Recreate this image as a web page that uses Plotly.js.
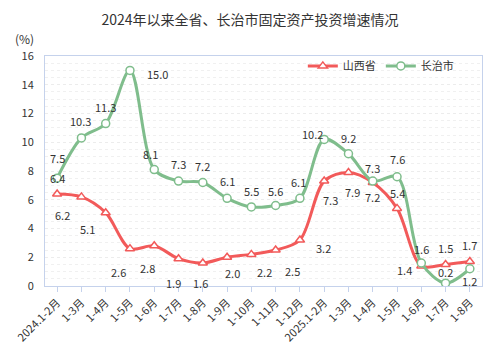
<!DOCTYPE html>
<html>
<head>
<meta charset="utf-8">
<script src="https://cdn.plot.ly/plotly-3.0.1.min.js"></script>
<style>html,body{margin:0;padding:0;background:#fff;}#chart{width:500px;height:349px;}</style>
</head>
<body>
<div id="chart"></div>
<script>
const categories = ["2024.1-2月","1-3月","1-4月","1-5月","1-6月","1-7月","1-8月","1-9月","1-10月","1-11月","1-12月","2025.1-2月","1-3月","1-4月","1-5月","1-6月","1-7月","1-8月"];
const shanxi = [6.4, 6.2, 5.1, 2.6, 2.8, 1.9, 1.6, 2.0, 2.2, 2.5, 3.2, 7.3, 7.9, 7.2, 5.4, 1.4, 1.5, 1.7];
const changzhi = [7.5, 10.3, 11.3, 15.0, 8.1, 7.3, 7.2, 6.1, 5.5, 5.6, 6.1, 10.2, 9.2, 7.3, 7.6, 1.6, 0.2, 1.2];
const yTicks = [0, 2, 4, 6, 8, 10, 12, 14, 16];

// label offsets in pixels [dx, dy] (style only)
const shanxiLabelShift = [[0,16],[-19,-18],[-18,-16],[-11,-23],[-7,-22],[-5,-24],[-2,-20],[5,-16],[13,-18],[17,-21],[24,-8],[6,-19],[4,-20],[0,-14],[0,15],[-17,-4],[0,16],[0,17]];
const changzhiLabelShift = [[0,20],[-1,17],[0,17],[28,-4],[-4,16],[0,17],[0,17],[0,17],[0,16],[0,15],[-1,16],[-12,5],[0,16],[0,13],[0,18],[0,14],[0,11],[0,-12]];

const RED = "#f25a5a", GREEN = "#7fbd8c";
const xIdx = categories.map((_, i) => i);

const traces = [
  {x: xIdx, y: shanxi, name: "山西省", type: "scatter", mode: "lines+markers",
   line: {color: RED, width: 3, shape: "spline", smoothing: 0.9},
   marker: {symbol: "triangle-up", size: 8, color: "#ffffff", line: {color: RED, width: 1.5}}},
  {x: xIdx, y: changzhi, name: "长治市", type: "scatter", mode: "lines+markers",
   line: {color: GREEN, width: 3, shape: "spline", smoothing: 0.9},
   marker: {symbol: "circle", size: 8, color: "#ffffff", line: {color: GREEN, width: 1.5}}}
];

const labelFont = {family: "Noto Sans CJK SC, sans-serif", size: 11, color: "#333333"};
const annotations = [];
shanxi.forEach((v, i) => annotations.push({x: i, y: v, xref: "x", yref: "y", text: v.toFixed(1), showarrow: false,
  xshift: shanxiLabelShift[i][0], yshift: shanxiLabelShift[i][1], font: labelFont}));
changzhi.forEach((v, i) => annotations.push({x: i, y: v, xref: "x", yref: "y", text: v.toFixed(1), showarrow: false,
  xshift: changzhiLabelShift[i][0], yshift: changzhiLabelShift[i][1], font: labelFont}));
annotations.push({text: "(%)", xref: "paper", yref: "paper", x: -0.046, xanchor: "center", y: 1, yanchor: "bottom", yshift: 7,
  showarrow: false, font: {family: "Noto Sans CJK SC, sans-serif", size: 12, color: "#333333"}});

const layout = {
  width: 500, height: 349,
  margin: {l: 45, r: 18, t: 56, b: 63},
  paper_bgcolor: "#ffffff", plot_bgcolor: "#ffffff",
  font: {family: "Noto Sans CJK SC, sans-serif", size: 11, color: "#333333"},
  title: {text: "2024年以来全省、长治市固定资产投资增速情况", x: 0.5, xanchor: "center",
    y: 0.943, yref: "container", yanchor: "middle",
    font: {family: "Noto Sans CJK SC, sans-serif", size: 14, color: "#333333"}},
  xaxis: {range: [-0.5, 17.5], tickmode: "array", tickvals: xIdx, ticktext: categories,
    tickangle: -45, ticks: "outside", tickson: "boundaries", ticklen: 5, tickcolor: "#c5d2ec",
    showline: true, linecolor: "#c5d2ec", linewidth: 1, mirror: true, showgrid: false, zeroline: false,
    tickfont: {size: 11, color: "#333333"}},
  yaxis: {range: [0, 16], tickmode: "array", tickvals: yTicks, ticks: "", ticklabelstandoff: 8,
    showline: true, linecolor: "#c5d2ec", linewidth: 1, mirror: true, zeroline: false,
    showgrid: true, gridcolor: "#ececec", griddash: "dot", gridwidth: 1,
    minor: {dtick: 0.5, showgrid: true, gridcolor: "#f0f0f0", griddash: "dot", gridwidth: 1},
    tickfont: {size: 11, color: "#333333"}},
  legend: {orientation: "h", x: 0.59, xanchor: "left", y: 0.957, yanchor: "middle",
    bgcolor: "rgba(0,0,0,0)", font: {size: 11, color: "#333333"}, itemwidth: 30},
  showlegend: true,
  annotations: annotations
};

Plotly.newPlot("chart", traces, layout, {displayModeBar: false, staticPlot: true});
</script>
</body>
</html>
